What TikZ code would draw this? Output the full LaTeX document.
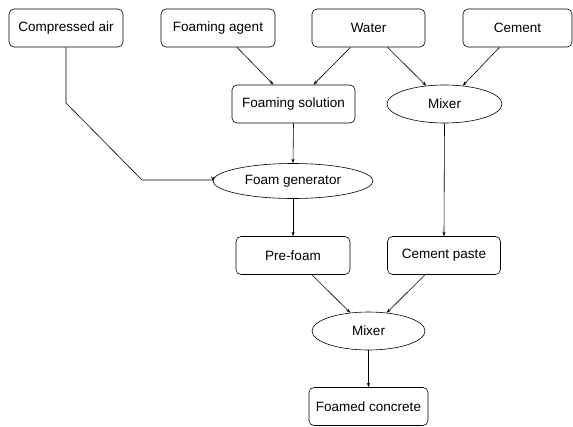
\documentclass[tikz,border=0pt]{standalone}
\usepackage{fontspec}
\setmainfont{Liberation Sans}
\usetikzlibrary{shapes.geometric,arrows.meta,calc}
\tikzset{
  box/.style={draw, line width=0.6pt, rounded corners=5pt, minimum height=38pt, inner sep=0pt, font=\fontsize{13.5}{15}\selectfont},
  oval/.style={draw, line width=0.6pt, ellipse, inner sep=0pt, font=\fontsize{13.5}{15}\selectfont},
  arr/.style={line width=0.6pt, -{Stealth[length=4.5pt,width=3.2pt]}}
}
\begin{document}
\begin{tikzpicture}[x=1pt,y=-1pt]
\useasboundingbox (0,0) rectangle (573,426);
\node[box, minimum width=114pt] (ca) at (66,28) {Compressed air};
\node[box, minimum width=114pt] (fa) at (218,28) {Foaming agent};
\node[box, minimum width=113pt] (wa) at (368.5,28) {Water};
\node[box, minimum width=109pt] (ce) at (517.5,28) {Cement};
\node[box, minimum width=123pt] (fs) at (293.5,104) {Foaming solution};
\node[oval, minimum width=115pt, minimum height=38pt] (mx1) at (444.5,104) {Mixer};
\node[oval, minimum width=160pt, minimum height=35pt] (fg) at (293,181) {Foam generator};
\node[box, minimum width=114pt] (pf) at (293,255.5) {Pre-foam};
\node[box, minimum width=113pt] (cp) at (444,255.5) {Cement paste};
\node[oval, minimum width=113pt, minimum height=38pt] (mx2) at (368.5,331) {Mixer};
\node[box, minimum width=119pt] (fc) at (368.5,406.5) {Foamed concrete};
\coordinate (b1) at (66,103);
\coordinate (b2) at (142,180);
\draw[arr] (ca.south) -- (b1) -- (b2) -- (b2 -| fg.west) -- (fg.west);
\draw[arr] ($(fa.south)+(19,0)$) -- ($(fs.north)+(-20,0)$);
\draw[arr] ($(wa.south)+(-18,0)$) -- ($(fs.north)+(20,0)$);
\draw[arr] ($(wa.south)+(19,0)$) -- (mx1.135);
\draw[arr] ($(ce.south)+(-18,0)$) -- (mx1.45);
\draw[arr] (fs.south) -- (fg.north);
\draw[arr] (mx1.south) -- (cp.north);
\draw[arr] (fg.south) -- (pf.north);
\draw[arr] ($(pf.south)+(19,0)$) -- (mx2.135);
\draw[arr] ($(cp.south)+(-19,0)$) -- (mx2.45);
\draw[arr] (mx2.south) -- (fc.north);
\end{tikzpicture}
\end{document}
